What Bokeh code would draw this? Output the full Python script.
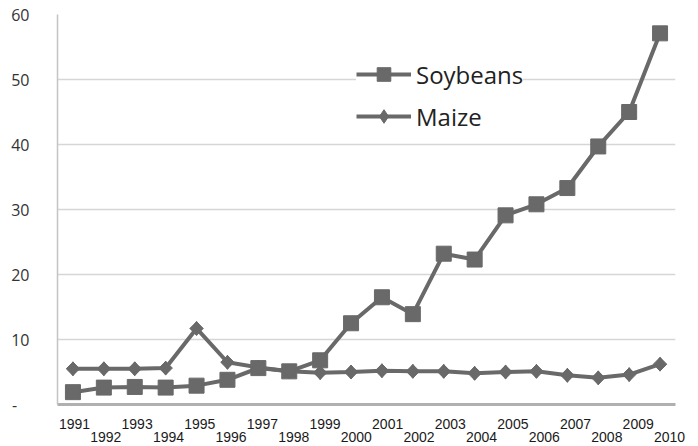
import numpy as np
from bokeh.plotting import figure
from bokeh.models import Range1d, LinearAxis, FixedTicker, Legend, LegendItem
from bokeh.embed import file_html
from bokeh.resources import INLINE

years = list(range(1991, 2011))
year_labels = [str(y) for y in years]
soybeans = [1.9, 2.6, 2.7, 2.6, 2.9, 3.8, 5.6, 5.1, 6.8, 12.5,
            16.5, 13.9, 23.2, 22.3, 29.1, 30.8, 33.3, 39.7, 45.0, 57.1]
maize = [5.5, 5.5, 5.5, 5.6, 11.7, 6.5, 5.7, 5.1, 4.9, 5.0,
         5.2, 5.1, 5.1, 4.8, 5.0, 5.1, 4.5, 4.1, 4.6, 6.2]
y_ticks = [0, 10, 20, 30, 40, 50, 60]
y_tick_labels = ["-\u00a0\u00a0\u00a0", "10", "20", "30", "40", "50", "60"]

SERIES = "#696969"

p = figure(width=698, height=446, output_backend="svg", toolbar_location=None,
           x_range=Range1d(1990.5, 2010.5), y_range=Range1d(0, 60),
           x_axis_location=None, min_border_left=57, min_border_top=14,
           min_border_right=23, min_border_bottom=42)
p.outline_line_color = None
p.background_fill_color = "white"
p.border_fill_color = "white"
p.extra_x_ranges = {"lab": Range1d(1990.457, 2010.192)}

# y axis
ya = p.yaxis[0]
ya.ticker = FixedTicker(ticks=y_ticks)
ya.major_label_overrides = {t: l for t, l in zip(y_ticks, y_tick_labels)}
ya.major_tick_line_color = None
ya.minor_tick_line_color = None
ya.axis_line_color = "#c4c4c4"
ya.axis_line_width = 1.5
ya.major_label_standoff = 22
ya.major_label_text_font = "Open Sans"
ya.major_label_text_font_size = "16px"
ya.major_label_text_color = "#333333"

p.ygrid.ticker = FixedTicker(ticks=y_ticks)
p.ygrid.grid_line_color = "#d6d6d6"
p.ygrid.grid_line_width = 1.5
p.xgrid.visible = False

odd = [y for y in years if y % 2 == 1]
even = [y for y in years if y % 2 == 0]
lab = dict(zip(years, year_labels))

ax_odd = LinearAxis(x_range_name="lab", ticker=FixedTicker(ticks=odd),
                    major_label_overrides={y: lab[y] for y in odd})
ax_even = LinearAxis(x_range_name="lab", ticker=FixedTicker(ticks=even),
                     major_label_overrides={y: lab[y] for y in even})
for ax in (ax_odd, ax_even):
    ax.major_tick_line_color = None
    ax.minor_tick_line_color = None
    ax.major_label_text_font = "Liberation Sans"
    ax.major_label_text_font_size = "14px"
    ax.major_label_text_color = "#1a1a1a"
ax_odd.axis_line_color = "#b0b0b0"
ax_odd.axis_line_width = 3
ax_odd.major_label_standoff = 8
ax_even.axis_line_color = None
ax_even.major_label_standoff = -6
p.add_layout(ax_odd, "below")
p.add_layout(ax_even, "below")

l1 = p.line(years, soybeans, line_color=SERIES, line_width=4)
s1 = p.scatter(years, soybeans, marker="square", size=15, fill_color=SERIES, line_color=SERIES)
l2 = p.line(years, maize, line_color=SERIES, line_width=4)
s2 = p.scatter(years, maize, marker="diamond", size=14, fill_color=SERIES, line_color=SERIES)
s2b = p.scatter(years, maize, marker="square", angle=np.pi / 4, size=9.5,
                fill_color=SERIES, line_color=SERIES)

legend = Legend(items=[LegendItem(label="Soybeans", renderers=[l1, s1]),
                       LegendItem(label="Maize", renderers=[l2, s2])],
                location=(299, 271), orientation="vertical")
legend.glyph_width = 55
legend.glyph_height = 34
legend.label_height = 34
legend.spacing = 8
legend.padding = 7
legend.margin = 0
legend.label_standoff = 5
legend.background_fill_color = "white"
legend.background_fill_alpha = 1.0
legend.border_line_color = None
legend.label_text_font = "Open Sans"
legend.label_text_font_size = "24px"
legend.label_text_color = "#222222"
p.add_layout(legend)

open("out.html", "w").write(file_html(p, INLINE))
